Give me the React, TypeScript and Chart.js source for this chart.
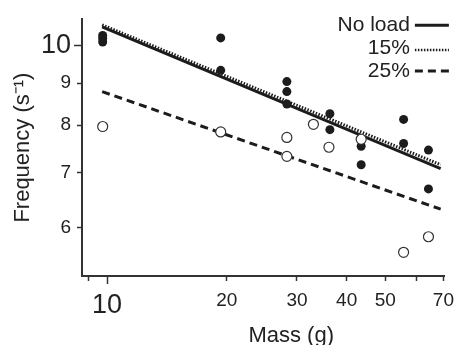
import React, { useEffect, useRef } from 'react';
import { Chart, registerables } from 'chart.js';

Chart.register(...registerables);

const FONT = '"Liberation Sans", Arial, Helvetica, sans-serif';

// ---- data ----
const xTicks = [9, 10, 20, 30, 40, 50, 60, 70];
const xLabeled = [10, 20, 30, 40, 50, 70];
const yTicks = [6, 7, 8, 9, 10];

const filledMass = [9.75, 9.75, 9.75, 19.3, 19.3, 28.3, 28.3, 28.3, 36.3, 36.3, 43.5, 43.5, 55.6, 55.6, 64.2, 64.2];
const filledFreq = [10.29, 10.2, 10.1, 10.22, 9.33, 9.04, 8.79, 8.49, 8.26, 7.9, 7.54, 7.16, 8.13, 7.6, 7.46, 6.69];

const openMass = [9.75, 19.3, 28.3, 28.3, 33.0, 36.1, 43.5, 55.6, 64.2];
const openFreq = [7.97, 7.85, 7.73, 7.33, 8.02, 7.52, 7.69, 5.6, 5.85];

const fitMass = [9.72, 68.9];
const noLoadFit = [10.54, 7.08];
const load15Fit = [10.6, 7.16];
const load25Fit = [8.79, 6.32];

const legendLabels = ['No load', '15%', '25%'];
const xTitle = 'Mass (g)';
const yTitle = 'Frequency (s\u207B\u00B9)';

const INK = '#1c1c1c';
const lineDashes: number[][] = [[], [1.5, 1.5], [8, 5]];

const toPts = (xs: number[], ys: number[]) => xs.map((x, i) => ({ x, y: ys[i] }));

const overlay = {
  id: 'overlay',
  afterDraw(chart: any) {
    const { ctx, chartArea } = chart;
    ctx.save();
    // x-axis title
    ctx.fillStyle = '#222';
    ctx.font = `22px ${FONT}`;
    ctx.textAlign = 'center';
    ctx.textBaseline = 'alphabetic';
    ctx.fillText(xTitle, (chartArea.left + chartArea.right) / 2 + 28, chart.height - 3.5);

    // legend
    const textRight = chartArea.right - 34.5;
    const lineX0 = textRight + 5;
    const lineX1 = textRight + 39;
    const rowsText = [25.5, 48.5, 71.5];
    const rowsLine = [25.3, 50, 71];
    ctx.font = `21px ${FONT}`;
    ctx.textAlign = 'right';
    ctx.textBaseline = 'middle';
    legendLabels.forEach((lab, i) => {
      ctx.fillStyle = '#222';
      ctx.fillText(lab, textRight, rowsText[i]);
      ctx.beginPath();
      ctx.setLineDash(lineDashes[i]);
      ctx.lineWidth = i === 1 ? 2.5 : 3;
      ctx.strokeStyle = INK;
      ctx.moveTo(lineX0, rowsLine[i]);
      ctx.lineTo(lineX1, rowsLine[i]);
      ctx.stroke();
    });
    ctx.restore();
  },
};

export default function App() {
  const ref = useRef<HTMLCanvasElement | null>(null);

  useEffect(() => {
    if (!ref.current) return;
    const tickFont = (ctx: any) => ({ family: FONT, size: ctx.tick && ctx.tick.value === 10 ? 27 : 19 });
    const chart = new Chart(ref.current, {
      type: 'scatter',
      data: {
        datasets: [
          {
            label: '25% data',
            data: toPts(openMass, openFreq),
            pointRadius: 5,
            pointHoverRadius: 5,
            backgroundColor: '#ffffff',
            borderColor: '#333333',
            borderWidth: 1.2,
            order: 0,
          },
          {
            label: 'No load data',
            data: toPts(filledMass, filledFreq),
            pointRadius: 4.5,
            pointHoverRadius: 4.5,
            backgroundColor: INK,
            borderColor: INK,
            borderWidth: 0,
            order: 1,
          },
          {
            label: legendLabels[0],
            data: toPts(fitMass, noLoadFit),
            showLine: true,
            pointRadius: 0,
            borderColor: INK,
            borderWidth: 3,
            order: 3,
          },
          {
            label: legendLabels[1],
            data: toPts(fitMass, load15Fit),
            showLine: true,
            pointRadius: 0,
            borderColor: INK,
            borderWidth: 3,
            borderDash: [1.5, 1.5],
            order: 4,
          },
          {
            label: legendLabels[2],
            data: toPts(fitMass, load25Fit),
            showLine: true,
            pointRadius: 0,
            borderColor: INK,
            borderWidth: 3,
            borderDash: [8, 5],
            order: 2,
          },
        ],
      },
      options: {
        responsive: false,
        animation: false,
        events: [],
        layout: { padding: { top: 15, right: 12, left: 0, bottom: 0 } },
        plugins: {
          legend: { display: false },
          tooltip: { enabled: false },
          title: { display: false },
        },
        scales: {
          x: {
            type: 'logarithmic',
            min: 8.65,
            max: 70.4,
            afterBuildTicks: (s: any) => {
              s.ticks = xTicks.map((v) => ({ value: v }));
            },
            afterFit: (s: any) => {
              s.height = 69;
            },
            border: { display: true, color: '#333', width: 2 },
            grid: {
              display: true,
              drawOnChartArea: false,
              drawTicks: true,
              tickLength: 8,
              color: '#333',
              tickColor: '#333',
              tickWidth: 1.5,
              tickBorderDash: (ctx: any) => (ctx.tick && ctx.tick.value === 10 ? [] : [4, 100]),
            },
            ticks: {
              autoSkip: false,
              maxRotation: 0,
              minRotation: 0,
              padding: 5,
              color: '#222',
              font: tickFont,
              callback: (v: any) => (xLabeled.includes(Number(v)) ? String(v) : ''),
            },
          },
          y: {
            type: 'logarithmic',
            min: 5.24,
            max: 10.77,
            afterBuildTicks: (s: any) => {
              s.ticks = yTicks.map((v) => ({ value: v }));
            },
            afterFit: (s: any) => {
              s.width = 82;
            },
            border: { display: true, color: '#333', width: 2 },
            grid: {
              display: true,
              drawOnChartArea: false,
              drawTicks: true,
              tickLength: 8,
              color: '#333',
              tickColor: '#333',
              tickWidth: 1.5,
              tickBorderDash: (ctx: any) => (ctx.tick && ctx.tick.value === 10 ? [] : [0, 3, 4, 100]),
            },
            ticks: {
              padding: 3,
              color: '#222',
              font: tickFont,
              callback: (v: any) => String(v),
            },
            title: {
              display: true,
              text: yTitle,
              color: '#222',
              font: { family: FONT, size: 22 },
              padding: { top: 10, bottom: 0 },
            },
          },
        },
      },
      plugins: [overlay],
    } as any);
    return () => chart.destroy();
  }, []);

  return (
    <div style={{ position: 'fixed', left: 0, top: 0, width: 459, height: 345, background: '#fff' }}>
      <canvas ref={ref} width={459} height={345} style={{ display: 'block' }} />
    </div>
  );
}
